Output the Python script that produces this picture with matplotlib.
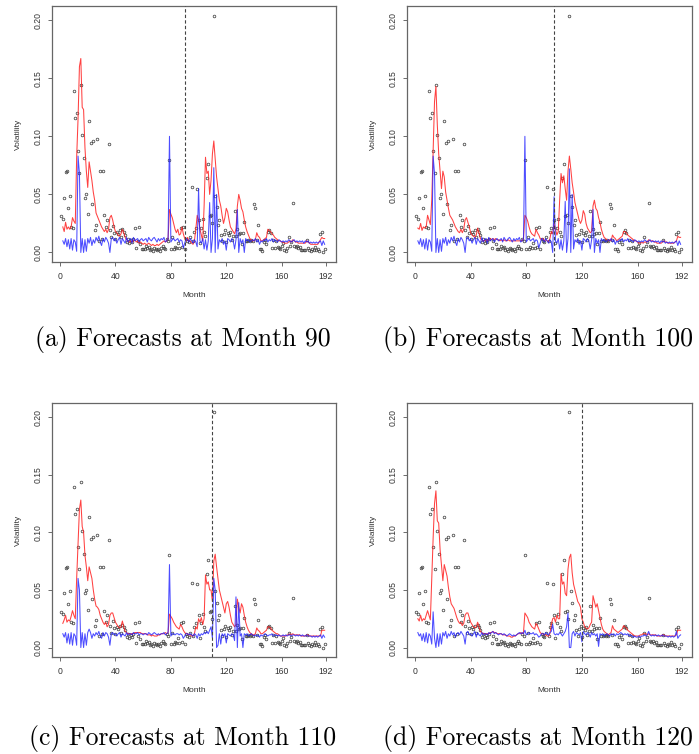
import numpy as np
import matplotlib
matplotlib.use("Agg")
import matplotlib.pyplot as plt

# observed volatility, months 1..191 (in units of 0.001)
obs = [31, 29, 47, 69, 70, 38, 49, 22, 21, 139,
       116, 120, 87, 68, 144, 101, 81, 47, 50, 33,
       113, 94, 42, 96, 19, 24, 98, 10, 70, 12,
       70, 32, 22, 28, 93, 19, 13, 23, 17, 12,
       18, 16, 19, 13, 20, 18, 15, 9, 12, 8,
       11, 9, 12, 21, 4, 10, 22, 7, 3, 3,
       3, 6, 4, 5, 2, 3, 1, 4, 3, 2,
       3, 1, 4, 6, 4, 3, 12, 10, 80, 3,
       13, 3, 5, 4, 8, 4, 21, 5, 22, 3,
       12, 10, 9, 13, 56, 10, 18, 21, 55, 28,
       8, 21, 29, 18, 14, 64, 76, 31, 32, 25,
       204, 49, 39, 24, 28, 15, 10, 16, 19, 9,
       17, 15, 18, 11, 14, 36, 14, 20, 16, 17,
       7, 17, 26, 10, 10, 11, 10, 11, 10, 42,
       38, 11, 24, 3, 3, 1, 9, 11, 7, 18,
       19, 17, 4, 11, 4, 10, 5, 4, 3, 6,
       8, 2, 1, 4, 13, 6, 9, 43, 6, 5,
       6, 4, 5, 2, 2, 2, 2, 11, 4, 2,
       1, 3, 2, 5, 2, 3, 1, 16, 18, 0,
       3]

# forecast lines, months 2..191 (in units of 0.001)
red_a = [22, 18, 26, 20, 22, 20, 22, 30, 27, 25,
         82, 115, 160, 167, 125, 123, 90, 70, 56, 78,
         70, 62, 52, 45, 34, 31, 28, 25, 22, 20,
         18, 20, 17, 20, 30, 32, 28, 22, 18, 17,
         15, 14, 16, 20, 17, 13, 11, 10, 9, 10,
         9, 10, 11, 9, 10, 8, 9, 8, 7, 8,
         7, 7, 8, 7, 6, 7, 6, 6, 7, 6,
         7, 8, 9, 10, 9, 10, 12, 37, 33, 30,
         25, 20, 17, 20, 15, 16, 22, 16, 12, 10,
         13, 10, 10, 8, 7, 10, 20, 32, 28, 20,
         15, 10, 40, 82, 68, 70, 50, 62, 85, 96,
         80, 65, 55, 45, 40, 32, 25, 30, 38, 35,
         28, 22, 20, 18, 16, 20, 40, 50, 45, 38,
         35, 28, 22, 18, 15, 12, 11, 10, 10, 11,
         17, 14, 13, 10, 10, 11, 12, 13, 20, 19,
         18, 16, 15, 13, 12, 11, 10, 10, 9, 9,
         8, 8, 8, 9, 10, 9, 11, 10, 9, 9,
         8, 8, 8, 8, 8, 8, 10, 9, 8, 7,
         7, 7, 7, 7, 7, 9, 11, 13, 12, 12]

red_b = [21, 20, 25, 19, 22, 21, 22, 32, 28, 24,
         45, 87, 130, 143, 110, 85, 70, 55, 70, 65,
         52, 45, 38, 32, 30, 28, 25, 22, 20, 18,
         17, 20, 17, 20, 28, 30, 26, 22, 17, 15,
         14, 13, 15, 21, 17, 12, 11, 10, 10, 11,
         10, 11, 12, 11, 12, 11, 12, 11, 11, 10,
         11, 10, 11, 10, 10, 11, 10, 10, 10, 10,
         10, 10, 10, 10, 10, 10, 12, 32, 30, 27,
         22, 18, 16, 15, 14, 20, 17, 15, 12, 11,
         12, 10, 11, 10, 9, 12, 18, 16, 25, 20,
         15, 18, 45, 68, 60, 66, 55, 45, 70, 83,
         72, 60, 52, 43, 38, 33, 28, 25, 28, 36,
         33, 25, 21, 19, 17, 18, 40, 45, 38, 36,
         30, 26, 20, 16, 13, 12, 11, 10, 11, 10,
         15, 13, 12, 10, 11, 12, 13, 14, 18, 18,
         17, 15, 14, 13, 12, 11, 10, 10, 9, 8,
         8, 9, 8, 9, 9, 9, 11, 10, 10, 10,
         9, 9, 8, 8, 8, 8, 9, 10, 9, 9,
         8, 8, 8, 8, 8, 9, 10, 14, 13, 13]

red_c = [21, 24, 28, 22, 24, 23, 27, 32, 28, 25,
         60, 90, 120, 128, 105, 100, 80, 70, 58, 70,
         65, 60, 50, 42, 36, 35, 33, 28, 25, 22,
         20, 22, 18, 20, 28, 30, 30, 26, 22, 20,
         18, 17, 18, 23, 18, 14, 13, 12, 12, 12,
         12, 12, 13, 13, 13, 13, 13, 12, 12, 12,
         12, 11, 11, 11, 10, 11, 10, 10, 10, 11,
         11, 12, 12, 12, 13, 12, 13, 29, 27, 25,
         22, 20, 18, 17, 16, 20, 18, 15, 13, 12,
         12, 11, 11, 10, 10, 12, 18, 16, 25, 22,
         26, 20, 25, 63, 55, 57, 50, 50, 40, 75,
         81, 70, 60, 50, 45, 40, 35, 30, 38, 40,
         35, 28, 22, 20, 18, 20, 42, 35, 30, 38,
         35, 28, 22, 18, 15, 13, 12, 11, 11, 12,
         17, 15, 14, 12, 12, 13, 14, 15, 18, 18,
         17, 15, 14, 13, 12, 12, 11, 10, 10, 10,
         10, 10, 11, 11, 12, 11, 12, 11, 11, 11,
         11, 11, 10, 10, 10, 10, 11, 11, 10, 10,
         10, 10, 10, 10, 10, 10, 10, 15, 15, 15]

red_d = [25, 23, 28, 23, 25, 24, 28, 32, 28, 24,
         60, 95, 125, 136, 110, 108, 85, 72, 58, 72,
         67, 62, 52, 44, 38, 36, 34, 30, 26, 23,
         21, 22, 19, 21, 28, 30, 30, 26, 22, 20,
         18, 17, 18, 22, 18, 14, 13, 12, 12, 12,
         12, 12, 13, 13, 14, 13, 13, 12, 12, 12,
         12, 11, 11, 11, 10, 10, 10, 9, 9, 10,
         10, 11, 12, 12, 13, 12, 13, 30, 28, 26,
         22, 20, 18, 17, 16, 21, 19, 16, 13, 12,
         12, 11, 11, 10, 10, 12, 20, 25, 26, 22,
         28, 25, 25, 64, 55, 57, 47, 45, 68, 78,
         81, 65, 55, 50, 45, 40, 38, 35, 25, 22,
         18, 17, 16, 17, 20, 22, 45, 40, 35, 38,
         32, 26, 20, 16, 14, 13, 12, 11, 12, 13,
         19, 16, 15, 14, 13, 14, 15, 16, 19, 18,
         17, 15, 14, 13, 12, 11, 10, 10, 10, 10,
         11, 11, 12, 12, 12, 11, 12, 11, 11, 11,
         11, 11, 10, 10, 10, 10, 11, 11, 10, 10,
         10, 10, 10, 10, 10, 10, 11, 15, 15, 15]

blue_a = [10, 7, 12, 5, 11, 3, 12, 2, 11, 9,
          1, 83, 68, 0, 12, 0, 11, 1, 12, 8,
          13, 6, 11, 8, 13, 10, 14, 9, 6, 12,
          9, 13, 11, 8, 0, 12, 13, 10, 12, 8,
          11, 13, 7, 12, 10, 8, 13, 9, 11, 12,
          8, 13, 10, 11, 12, 9, 11, 12, 10, 11,
          12, 9, 13, 11, 10, 12, 13, 11, 9, 12,
          10, 12, 11, 13, 9, 10, 12, 100, 9, 11,
          12, 10, 11, 12, 9, 11, 10, 4, 8, 12,
          11, 9, 12, 10, 8, 11, 9, 5, 55, 10,
          8, 12, 3, 11, 2, 10, 43, 0, 12, 73,
          0, 50, 3, 11, 9, 12, 7, 10, 2, 12,
          11, 9, 12, 10, 3, 11, 37, 0, 12, 8,
          11, 0, 12, 10, 11, 9, 10, 11, 10, 12,
          9, 11, 7, 10, 9, 11, 10, 12, 9, 11,
          10, 12, 9, 11, 10, 9, 11, 10, 9, 10,
          9, 10, 9, 11, 10, 9, 10, 11, 9, 10,
          9, 10, 9, 10, 8, 10, 9, 10, 8, 9,
          8, 9, 8, 9, 8, 9, 10, 6, 10, 7]

blue_b = [10, 7, 12, 5, 11, 3, 12, 2, 11, 9,
          1, 83, 68, 0, 12, 0, 11, 1, 12, 8,
          13, 6, 11, 8, 13, 10, 14, 9, 6, 12,
          9, 13, 11, 8, 0, 12, 13, 10, 12, 8,
          11, 13, 7, 12, 10, 8, 13, 9, 11, 12,
          8, 13, 10, 11, 12, 9, 11, 12, 10, 11,
          12, 9, 13, 11, 10, 12, 13, 11, 9, 12,
          10, 12, 11, 13, 9, 10, 12, 100, 9, 11,
          12, 10, 11, 12, 9, 11, 10, 4, 8, 12,
          11, 9, 12, 10, 8, 11, 9, 0, 48, 10,
          8, 12, 3, 11, 2, 10, 44, 0, 12, 72,
          0, 50, 3, 11, 9, 12, 7, 10, 2, 12,
          11, 9, 12, 10, 3, 11, 37, 0, 12, 8,
          11, 0, 12, 10, 11, 9, 10, 11, 10, 12,
          9, 11, 7, 10, 9, 11, 10, 12, 9, 11,
          10, 12, 9, 11, 10, 9, 11, 10, 9, 10,
          9, 10, 9, 11, 10, 9, 10, 11, 9, 10,
          9, 10, 9, 10, 8, 10, 9, 10, 8, 9,
          8, 9, 8, 9, 8, 9, 10, 6, 10, 7]

blue_c = [12, 9, 13, 4, 12, 3, 13, 2, 12, 10,
          2, 60, 50, 0, 13, 0, 12, 2, 13, 16,
          13, 8, 12, 10, 13, 11, 14, 10, 8, 13,
          10, 13, 12, 9, 2, 12, 13, 11, 12, 10,
          12, 13, 9, 12, 11, 10, 13, 11, 12, 12,
          11, 13, 12, 12, 13, 11, 12, 12, 11, 12,
          12, 11, 13, 12, 11, 12, 13, 12, 11, 12,
          11, 12, 12, 13, 11, 12, 13, 72, 10, 12,
          12, 11, 12, 12, 11, 12, 11, 8, 10, 12,
          12, 11, 12, 11, 10, 12, 11, 8, 12, 10,
          12, 11, 13, 12, 14, 12, 15, 18, 8, 60,
          50, 0, 2, 12, 3, 12, 10, 12, 4, 12,
          11, 10, 12, 11, 6, 44, 0, 39, 10, 12,
          0, 12, 11, 12, 10, 11, 12, 11, 10, 11,
          10, 11, 9, 11, 10, 11, 12, 11, 10, 11,
          11, 12, 10, 11, 11, 10, 11, 10, 10, 11,
          10, 11, 10, 11, 11, 10, 11, 11, 10, 11,
          10, 11, 10, 11, 10, 10, 11, 10, 10, 10,
          9, 10, 9, 10, 9, 10, 11, 8, 11, 9]

blue_d = [13, 10, 12, 6, 12, 5, 13, 4, 12, 10,
          3, 31, 8, 0, 12, 1, 12, 3, 13, 10,
          14, 8, 12, 10, 14, 11, 13, 9, 12, 13,
          11, 14, 12, 10, 3, 13, 14, 11, 12, 10,
          12, 14, 9, 13, 11, 10, 13, 11, 12, 12,
          11, 13, 12, 13, 14, 12, 13, 12, 11, 12,
          12, 11, 12, 11, 10, 11, 12, 11, 10, 11,
          10, 11, 12, 13, 12, 13, 12, 15, 11, 12,
          13, 12, 12, 13, 11, 12, 11, 9, 10, 12,
          12, 11, 13, 12, 11, 13, 14, 20, 12, 11,
          12, 11, 13, 12, 10, 12, 14, 18, 30, 0,
          0, 12, 14, 10, 13, 12, 11, 13, 5, 14,
          12, 11, 13, 12, 9, 13, 11, 12, 10, 12,
          1, 12, 11, 12, 10, 11, 12, 11, 10, 12,
          11, 12, 10, 12, 11, 12, 13, 12, 11, 12,
          11, 12, 10, 11, 10, 9, 10, 9, 9, 10,
          9, 10, 10, 11, 10, 11, 14, 11, 10, 11,
          10, 11, 10, 11, 10, 10, 11, 10, 10, 10,
          9, 10, 9, 10, 9, 10, 14, 8, 10, 11]

origins = [90, 100, 110, 120]
captions = ["(a) Forecasts at Month 90", "(b) Forecasts at Month 100",
            "(c) Forecasts at Month 110", "(d) Forecasts at Month 120"]
reds = [red_a, red_b, red_c, red_d]
blues = [blue_a, blue_b, blue_c, blue_d]

obs_months = np.arange(1, len(obs) + 1)
line_months = np.arange(2, len(red_a) + 2)

W, H = 699, 754
fig = plt.figure(figsize=(W / 100, H / 100), dpi=100)

# axes boxes in pixels: left, top, right, bottom
boxes = [(52, 6, 336, 262), (407, 6, 692, 262),
         (52, 403, 336, 657), (407, 403, 692, 657)]
cap_pos = [(183, 340), (538, 340), (183, 738), (538, 738)]

tick_font = "Liberation Sans"
for i in range(4):
    l, t, r, b = boxes[i]
    ax = fig.add_axes([l / W, 1 - b / H, (r - l) / W, (b - t) / H])
    ax.plot(obs_months, np.array(obs) / 1000, "o", ms=1.9, mfc="none",
            mec="#444444", mew=0.55, zorder=2)
    ax.plot(line_months, np.array(reds[i]) / 1000, color="#ff2020", lw=0.75,
            alpha=0.85, zorder=3)
    ax.plot(line_months, np.array(blues[i]) / 1000, color="#2020ff", lw=0.75,
            alpha=0.8, zorder=4)
    ax.axvline(origins[i], color="#444444", lw=0.8, ls=(0, (3, 2)), zorder=5)

    ax.set_xlim(-5.8, 199.2)
    ax.set_ylim(-0.0082, 0.2122)
    ax.set_xticks([0, 40, 80, 120, 160, 192])
    ax.set_yticks([0.0, 0.05, 0.10, 0.15, 0.20])
    ax.set_yticklabels(["0.00", "0.05", "0.10", "0.15", "0.20"],
                       rotation=90, va="center")
    ax.tick_params(labelsize=6.2, colors="#555555", labelcolor="#333333",
                   length=3, width=0.6, pad=4)
    for lab in ax.get_xticklabels() + ax.get_yticklabels():
        lab.set_family(tick_font)
    for s in ax.spines.values():
        s.set_color("#666666")
        s.set_linewidth(0.9)
    ax.set_xlabel("Month", fontsize=6.0, family=tick_font, color="#333333",
                  labelpad=8)
    ax.set_ylabel("Volatility", fontsize=6.0, family=tick_font, color="#333333",
                  labelpad=8)

    cx, cy = cap_pos[i]
    fig.text(cx / W, 1 - cy / H, captions[i], family="cmr10", fontsize=18.5,
             ha="center", va="center")

fig.savefig("out.png", dpi=100)
